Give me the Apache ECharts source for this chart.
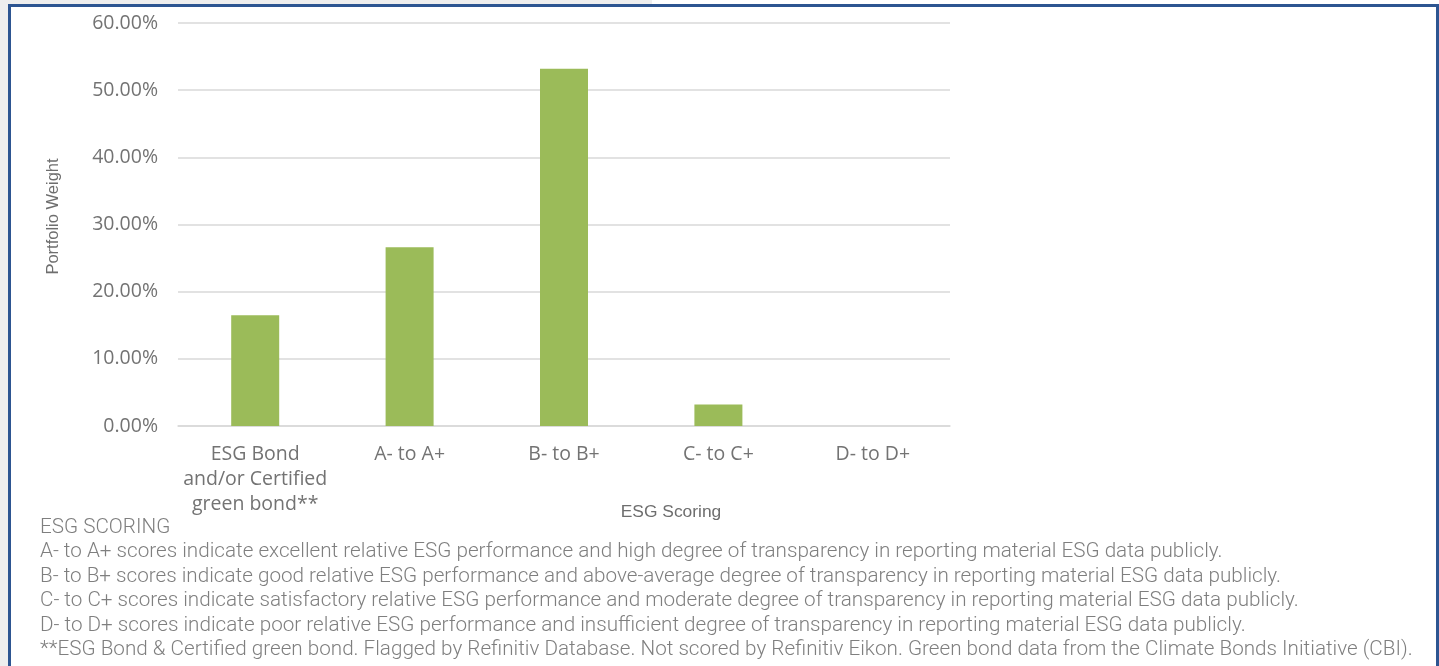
<!DOCTYPE html>
<html><head><meta charset="utf-8">
<script src="https://cdn.jsdelivr.net/npm/echarts@6/dist/echarts.min.js"></script>
<style>html,body{margin:0;padding:0;background:#fff;}#c{width:1439px;height:666px;}</style>
</head><body><div id="c"></div>
<script>
const categories = ['ESG Bond\nand/or Certified\ngreen bond**', 'A- to A+', 'B- to B+', 'C- to C+', 'D- to D+'];
const weights = [16.5, 26.6, 53.2, 3.2, 0];
const yTicks = {min: 0, max: 60, interval: 10};
const yAxisTitle = 'Portfolio Weight';
const xAxisTitle = 'ESG Scoring';
const footerLines = [
  'ESG SCORING',
  'A- to A+ scores indicate excellent relative ESG performance and high degree of transparency in reporting material ESG data publicly.',
  'B- to B+ scores indicate good relative ESG performance and above-average degree of transparency in reporting material ESG data publicly.',
  'C- to C+ scores indicate satisfactory relative ESG performance and moderate degree of transparency in reporting material ESG data publicly.',
  'D- to D+ scores indicate poor relative ESG performance and insufficient degree of transparency in reporting material ESG data publicly.',
  '**ESG Bond & Certified green bond. Flagged by Refinitiv Database. Not scored by Refinitiv Eikon. Green bond data from the Climate Bonds Initiative (CBI).'
];

const chart = echarts.init(document.getElementById('c'), null, {renderer: 'canvas'});
const footerGraphics = footerLines.map((t, i) => ({
  type: 'text', x: 40, y: 528 + i * 24.4, scaleX: 1.033,
  style: {text: t, fill: '#7f7f7f', font: '300 20px Roboto', verticalAlign: 'middle'}
}));
chart.setOption({
  animation: false,
  backgroundColor: '#ffffff',
  grid: {left: 178, right: 489, top: 23, bottom: 240, containLabel: false},
  xAxis: {
    type: 'category', data: categories,
    name: xAxisTitle, nameLocation: 'middle', nameGap: 86, nameMoveOverlap: false,
    nameTextStyle: {color: '#6e6e6e', fontFamily: 'Liberation Sans', fontSize: 17.4, verticalAlign: 'middle', padding: [0, 0, 0, 214]},
    axisLine: {lineStyle: {color: '#d9d9d9', width: 1.5}},
    axisTick: {show: false},
    axisLabel: {color: '#737373', fontFamily: 'Open Sans', fontSize: 19.5, lineHeight: 25, margin: 16, interval: 0}
  },
  yAxis: {
    type: 'value', min: yTicks.min, max: yTicks.max, interval: yTicks.interval,
    name: yAxisTitle, nameLocation: 'middle', nameGap: 116, nameRotate: 90, nameMoveOverlap: false,
    nameTextStyle: {color: '#6e6e6e', fontFamily: 'Liberation Sans', fontSize: 16.5, padding: [0, 0, 0, 16]},
    axisLine: {show: false}, axisTick: {show: false},
    splitLine: {lineStyle: {color: '#d9d9d9', width: 1.5}},
    axisLabel: {color: '#737373', fontFamily: 'Open Sans', fontSize: 19.5, margin: 20,
      formatter: v => v.toFixed(2) + '%'}
  },
  series: [{
    type: 'bar', data: weights, barWidth: 48,
    itemStyle: {color: '#9bbb59'}
  }],
  graphic: [
    {type: 'rect', left: 0, top: 0, shape: {width: 9, height: 666}, style: {fill: '#eeeeee'}, silent: true},
    {type: 'rect', left: 0, top: 0, shape: {width: 652, height: 5}, style: {fill: '#eeeeee'}, silent: true},
    {type: 'rect', shape: {x: 9.5, y: 5.5, width: 1428, height: 680}, style: {fill: 'none', stroke: '#2d5591', lineWidth: 3}, silent: true}
  ].concat(footerGraphics)
});
</script></body></html>
